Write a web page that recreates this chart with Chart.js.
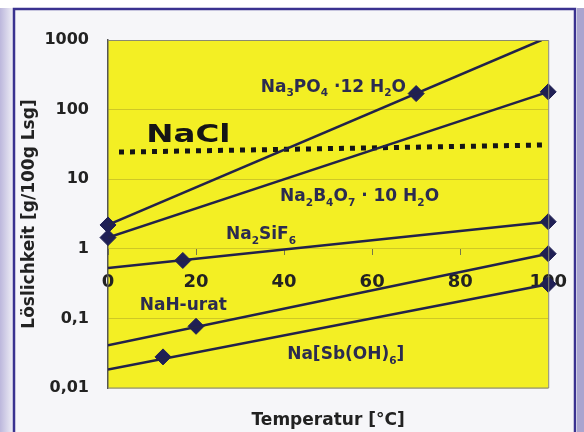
<!DOCTYPE html>
<html>
<head>
<meta charset="utf-8">
<script src="https://cdn.jsdelivr.net/npm/chart.js@4.4.0/dist/chart.umd.min.js"></script>
<style>
  html, body { margin: 0; padding: 0; background: #fff; }
  canvas { display: block; }
</style>
</head>
<body>
<canvas id="loeslichkeit" width="584" height="432"></canvas>
<script>
// Temperatur [°C] / Löslichkeit [g/100g Lsg]
const xTicks = [0, 20, 40, 60, 80, 100];
const yTicks = [0.01, 0.1, 1, 10, 100, 1000];
const yTickLabels = ['0,01', '0,1', '1', '10', '100', '1000'];

const phosphateLineT = [0, 98.5];
const phosphateLineS = [2.2, 1000];
const phosphatePtsT = [0, 70];
const phosphatePtsS = [2.2, 170];

const boraxLineT = [0, 100];
const boraxLineS = [1.45, 180];
const boraxPtsT = [0, 100];
const boraxPtsS = [1.45, 180];

const naclT = [2.5, 99];
const naclS = [24.5, 31];

const silicoLineT = [0, 100];
const silicoLineS = [0.53, 2.45];
const silicoPtsT = [17, 100];
const silicoPtsS = [0.68, 2.45];

const uratLineT = [0, 100];
const uratLineS = [0.041, 0.85];
const uratPtsT = [20, 100];
const uratPtsS = [0.077, 0.85];

const antimonLineT = [0, 100];
const antimonLineS = [0.0185, 0.31];
const antimonPtsT = [12.5, 100];
const antimonPtsS = [0.028, 0.31];

const FONT = "'DejaVu Sans', 'Liberation Sans', sans-serif";
const lineColor = '#22224a';
const markColor = '#1f1f55';

const pts = (t, s) => t.map((v, i) => ({ x: v, y: s[i] }));

const lineSet = (t, s) => ({
    data: pts(t, s),
    borderColor: lineColor,
    borderWidth: 2.5,
    pointRadius: 0,
    showLine: true,
    fill: false
});

const markSet = (t, s) => ({
    data: pts(t, s),
    showLine: false,
    pointStyle: 'rectRot',
    pointRadius: 8,
    pointBackgroundColor: markColor,
    pointBorderColor: markColor,
    pointBorderWidth: 1,
    clip: false
});

// text labels, anchored in data units (left edge, baseline); "_" marks a subscript char
const curveLabels = [
    { text: 'Na_3PO_4 ·12 H_2O', t: 34.7, s: 181, size: 17, color: '#2b2b50', stretch: 1 },
    { text: 'NaCl', t: 8.7, s: 34, size: 25, color: '#151515', stretch: 1.3 },
    { text: 'Na_2B_4O_7 · 10 H_2O', t: 39.1, s: 4.9, size: 17, color: '#2b2b50', stretch: 1 },
    { text: 'Na_2SiF_6', t: 26.8, s: 1.39, size: 17, color: '#2b2b50', stretch: 1 },
    { text: 'NaH-urat', t: 7.2, s: 0.13, size: 17, color: '#2b2b50', stretch: 1 },
    { text: 'Na[Sb(OH)_6]', t: 40.7, s: 0.0258, size: 17, color: '#2b2b50', stretch: 1 }
];

function drawRich(ctx, text, x, y, size) {
    let cx = x;
    for (let i = 0; i < text.length; i++) {
        let ch = text[i];
        let sub = false;
        if (ch === '_' && i + 1 < text.length) { sub = true; ch = text[++i]; }
        const fs = sub ? size * 0.62 : size;
        ctx.font = 'bold ' + fs + 'px ' + FONT;
        ctx.fillText(ch, cx, sub ? y + size * 0.28 : y);
        cx += ctx.measureText(ch).width;
    }
}

const framePlugin = {
    id: 'frame',
    beforeDraw(chart) {
        const { ctx, width, height, chartArea: a } = chart;
        ctx.save();
        ctx.fillStyle = '#ffffff';
        ctx.fillRect(0, 0, width, height);
        const g = ctx.createLinearGradient(0, 0, 13, 0);
        g.addColorStop(0, '#bcb7dc');
        g.addColorStop(1, '#efeef6');
        ctx.fillStyle = g;
        ctx.fillRect(0, 8, 13, height);
        ctx.fillStyle = '#aaa4cf';
        ctx.fillRect(577, 8, width - 577, height);
        ctx.fillStyle = '#f6f6f9';
        ctx.fillRect(14, 9, 560, height);
        ctx.strokeStyle = '#3a3290';
        ctx.lineWidth = 2.5;
        ctx.beginPath();
        ctx.moveTo(14, height + 2);
        ctx.lineTo(14, 9);
        ctx.lineTo(575, 9);
        ctx.lineTo(575, height + 2);
        ctx.stroke();
        ctx.fillStyle = '#f3ef24';
        ctx.fillRect(a.left, a.top, a.right - a.left, a.bottom - a.top);
        ctx.restore();
    },
    afterDraw(chart) {
        const { ctx, chartArea: a, scales } = chart;
        ctx.save();
        ctx.strokeStyle = '#8a8a70';
        ctx.lineWidth = 1;
        ctx.beginPath();
        ctx.moveTo(a.left, a.top + 0.5);
        ctx.lineTo(a.right + 0.5, a.top + 0.5);
        ctx.lineTo(a.right + 0.5, a.bottom);
        ctx.lineTo(a.left, a.bottom);
        ctx.stroke();

        ctx.textBaseline = 'alphabetic';
        ctx.textAlign = 'left';
        curveLabels.forEach(l => {
            const px = scales.x.getPixelForValue(l.t);
            const py = scales.y.getPixelForValue(l.s);
            ctx.fillStyle = l.color;
            ctx.save();
            ctx.translate(px, py);
            ctx.scale(l.stretch, 1);
            drawRich(ctx, l.text, 0, 0, l.size);
            ctx.restore();
        });

        ctx.fillStyle = '#222';
        ctx.font = 'bold 17px ' + FONT;
        ctx.textAlign = 'center';
        ctx.textBaseline = 'middle';
        ctx.fillText('Temperatur [°C]', (a.left + a.right) / 2, 421);
        ctx.restore();
    }
};

new Chart(document.getElementById('loeslichkeit'), {
    type: 'scatter',
    data: {
        datasets: [
            lineSet(phosphateLineT, phosphateLineS),
            lineSet(boraxLineT, boraxLineS),
            { ...lineSet(naclT, naclS), borderColor: '#151515', borderWidth: 5, borderDash: [5, 6] },
            lineSet(silicoLineT, silicoLineS),
            lineSet(uratLineT, uratLineS),
            lineSet(antimonLineT, antimonLineS),
            markSet(phosphatePtsT, phosphatePtsS),
            markSet(boraxPtsT, boraxPtsS),
            markSet(silicoPtsT, silicoPtsS),
            markSet(uratPtsT, uratPtsS),
            markSet(antimonPtsT, antimonPtsS)
        ]
    },
    options: {
        responsive: false,
        animation: false,
        layout: { padding: { left: 0, top: 40, right: 29, bottom: 44 } },
        scales: {
            x: {
                type: 'linear',
                position: { y: 1 },
                min: 0,
                max: 100,
                afterBuildTicks: s => { s.ticks = xTicks.map(v => ({ value: v })); },
                ticks: {
                    padding: 17,
                    color: '#222',
                    font: { family: FONT, size: 18, weight: 'bold' }
                },
                grid: { drawOnChartArea: false, drawTicks: true, tickLength: 6, tickColor: '#77774a' },
                border: { display: false }
            },
            y: {
                type: 'logarithmic',
                position: 'left',
                min: 0.01,
                max: 1000,
                afterBuildTicks: s => { s.ticks = yTicks.map(v => ({ value: v })); },
                afterFit: s => { s.width = 108; },
                ticks: {
                    padding: 19,
                    color: '#222',
                    font: { family: FONT, size: 16, weight: 'bold' },
                    callback: v => yTickLabels[yTicks.indexOf(v)]
                },
                grid: { color: 'rgba(140, 130, 40, 0.35)', drawTicks: false },
                border: { display: true, color: '#555', width: 1.5 },
                title: {
                    display: true,
                    text: 'Löslichkeit [g/100g Lsg]',
                    color: '#222',
                    font: { family: FONT, size: 17, weight: 'bold' },
                    padding: { top: 19, bottom: 0 }
                }
            }
        },
        plugins: {
            legend: { display: false },
            tooltip: { enabled: false }
        }
    },
    plugins: [framePlugin]
});
</script>
</body>
</html>
